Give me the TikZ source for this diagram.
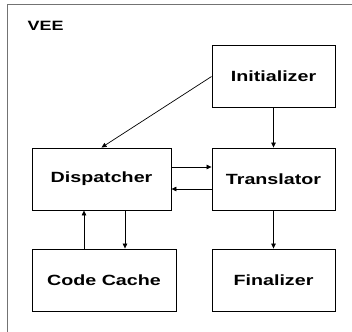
\documentclass[tikz,border=0pt]{standalone}
\usepackage{fontspec}
\setmainfont[FakeStretch=1.33]{Liberation Sans}
\usetikzlibrary{arrows.meta}
\tikzset{
  unit/.style={draw=black, line width=0.9pt, minimum width=123pt, minimum height=62pt,
    inner sep=0pt, font=\fontsize{14.8}{17}\selectfont\bfseries},
  flow/.style={draw=black, line width=0.7pt, -{Triangle[length=5pt,width=4.5pt]}}
}
\begin{document}
\begin{tikzpicture}[x=1pt,y=-1pt]
  \useasboundingbox (0,0) rectangle (352,331);
  \clip (0,0) rectangle (352,331);
  \fill[white] (0,0) rectangle (352,331);
  % enclosing VEE frame, running off the right and bottom edges
  \draw[draw=black!55, line width=1.6pt] (7.5,4.5) rectangle (370,350);
  \node[anchor=base west, font=\fontsize{13.5}{16}\selectfont\bfseries, inner sep=0pt] (vee) at (27.5,30.5) {VEE};
  % components
  \node[unit] (init) at (273.5,76.5) {Initializer};
  \node[unit, minimum width=139pt] (disp) at (101.5,179) {Dispatcher};
  \node[unit] (trans) at (273.5,179) {Translator};
  \node[unit, minimum width=144pt] (cache) at (104,280) {Code Cache};
  \node[unit] (fin) at (273.5,280) {Finalizer};
  % control flow
  \draw[flow] (init.west) -- (disp.north);
  \draw[flow] (init.south) -- (trans.north);
  \draw[flow] ([yshift=12pt]disp.east) -- ([yshift=12pt]trans.west);
  \draw[flow] ([yshift=-10pt]trans.west) -- ([yshift=-10pt]disp.east);
  \draw[flow] ([xshift=23.5pt]disp.south) -- ([xshift=21pt]cache.north);
  \draw[flow] ([xshift=-20pt]cache.north) -- ([xshift=-17.5pt]disp.south);
  \draw[flow] (trans.south) -- (fin.north);
\end{tikzpicture}
\end{document}
